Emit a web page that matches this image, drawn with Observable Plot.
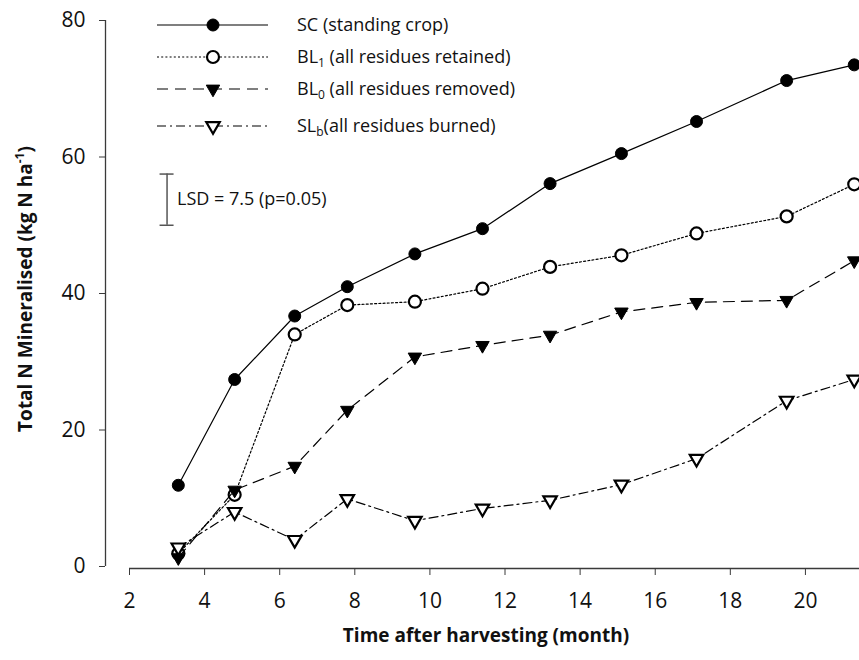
<!DOCTYPE html>
<html>
<head>
<meta charset="utf-8">
<script src="https://cdn.jsdelivr.net/npm/d3@7"></script>
<script src="https://cdn.jsdelivr.net/npm/@observablehq/plot@0.6"></script>
<style>
  body { margin: 0; background: #fff; font-family: "Open Sans", sans-serif; }
  #chart { position: relative; width: 859px; height: 660px; }
  #chart svg { position: absolute; left: 0; top: 0; }
</style>
</head>
<body>
<div id="chart"></div>
<script>
// Sampling times (months after harvest)
const months = [3.3, 4.8, 6.4, 7.8, 9.6, 11.4, 13.2, 15.1, 17.1, 19.5, 21.3];

// Cumulative N mineralised (kg N ha-1) per treatment
const scValues  = [11.9, 27.4, 36.7, 41.0, 45.8, 49.5, 56.1, 60.5, 65.2, 71.2, 73.5];
const bl1Values = [1.9, 10.5, 34.0, 38.3, 38.8, 40.7, 43.9, 45.6, 48.8, 51.3, 56.0];
const bl0Values = [1.3, 11.2, 14.7, 22.9, 30.7, 32.4, 33.9, 37.3, 38.7, 39.0, 44.8];
const slbValues = [2.8, 8.0, 3.9, 9.9, 6.7, 8.5, 9.7, 12.0, 15.8, 24.3, 27.4];

const seriesKeys = ["SC", "BL1", "BL0", "SLb"];
const seriesValues = [scValues, bl1Values, bl0Values, slbValues];

// Axis ticks and domains
const xTicks = [2, 4, 6, 8, 10, 12, 14, 16, 18, 20];
const yTicks = [0, 20, 40, 60, 80];
const xDomain = [2, 21.44];
const yDomain = [0, 80];

// Least significant difference bar
const lsdValue = 7.5;
const lsdX = 3;
const lsdBase = 50;
const lsdLabel = "LSD = 7.5 (p=0.05)";

// Long-format table
const rows = seriesKeys.flatMap((key, s) =>
  months.map((m, i) => ({series: key, month: m, value: seriesValues[s][i]}))
);

// Drawing styles per treatment
const styles = {
  SC:  {dash: null,        symbol: "circle",   fill: "black", r: 6, sw: 1.2, rotate: 0},
  BL1: {dash: "2,2.2",     symbol: "circle",   fill: "white", r: 6, sw: 2.2, rotate: 0},
  BL0: {dash: "11,7",      symbol: "triangle", fill: "black", r: 5, sw: 1.2, rotate: 180},
  SLb: {dash: "9,4,2,4",   symbol: "triangle", fill: "white", r: 5, sw: 2.2, rotate: 180}
};

const W = 859, H = 660, xInset = 24;
const axisColor = "#3a3a3a";
const textColor = "#111";
const fontFam = "'Open Sans', sans-serif";

const seriesMarks = seriesKeys.flatMap(key => {
  const st = styles[key];
  const data = rows.filter(d => d.series === key);
  return [
    Plot.line(data, {x: "month", y: "value", stroke: "black", strokeWidth: 1.2, strokeDasharray: st.dash}),
    Plot.dot(data, {x: "month", y: "value", r: st.r, symbol: st.symbol, rotate: st.rotate,
                    fill: st.fill, stroke: "black", strokeWidth: st.fill === "black" ? 1 : st.sw})
  ];
});

const plot = Plot.plot({
  width: W,
  height: H,
  marginLeft: 105,
  marginRight: 0,
  marginTop: 20,
  marginBottom: 94,
  x: {domain: xDomain, insetLeft: xInset},
  y: {domain: yDomain},
  style: {fontFamily: fontFam, background: "white", overflow: "visible"},
  marks: [
    // y axis line, offset from the start of the x axis
    Plot.ruleX([xDomain[0]], {y1: yDomain[0], y2: yDomain[1], dx: -xInset, stroke: axisColor, strokeWidth: 1.3}),
    Plot.axisY({ticks: yTicks, tickSize: 6, tickPadding: 14, fontSize: 21, label: null, stroke: axisColor, fill: textColor}),
    // x axis line
    Plot.ruleY([yDomain[0]], {x1: xDomain[0], x2: xDomain[1], dy: 2, stroke: axisColor, strokeWidth: 1.3}),
    Plot.axisX({ticks: xTicks, tickSize: 7, tickPadding: 18, dy: 2, fontSize: 21, label: null, stroke: axisColor, fill: textColor}),
    ...seriesMarks,
    // LSD bar with caps
    Plot.ruleX([lsdX], {y1: lsdBase, y2: lsdBase + lsdValue, stroke: "#555", strokeWidth: 1.5}),
    Plot.ruleY([lsdBase, lsdBase + lsdValue], {x1: lsdX, x2: lsdX, insetLeft: -7, insetRight: -7, stroke: "#555", strokeWidth: 1.5}),
    Plot.text([lsdLabel], {x: lsdX, y: lsdBase + lsdValue / 2, text: d => d, dx: 10, textAnchor: "start", fontSize: 18, fill: textColor})
  ]
});

const chart = document.getElementById("chart");
chart.appendChild(plot);

// Titles and legend overlay
const over = d3.select(chart).append("svg")
  .attr("width", W).attr("height", H)
  .style("pointer-events", "none")
  .style("font-family", fontFam);

const yTitle = over.append("text")
  .attr("transform", "translate(32,289) rotate(-90)")
  .attr("text-anchor", "middle")
  .attr("font-size", 19).attr("font-weight", "bold").attr("fill", textColor);
yTitle.append("tspan").text("Total N Mineralised (kg N ha");
yTitle.append("tspan").attr("font-size", 12).attr("dy", -8).text("-1");
yTitle.append("tspan").attr("dy", 8).text(")");

over.append("text")
  .attr("x", 486).attr("y", 642)
  .attr("text-anchor", "middle")
  .attr("font-size", 19).attr("font-weight", "bold").attr("fill", textColor)
  .text("Time after harvesting (month)");

const legendItems = [
  {key: "SC",  main: "SC",  sub: null, rest: " (standing crop)"},
  {key: "BL1", main: "BL",  sub: "1",  rest: " (all residues retained)"},
  {key: "BL0", main: "BL",  sub: "0",  rest: " (all residues removed)"},
  {key: "SLb", main: "SL",  sub: "b",  rest: "(all residues burned)"}
];
const legendRowY = [25, 57, 89, 126];

legendItems.forEach((it, i) => {
  const st = styles[it.key];
  const y = legendRowY[i];
  const g = over.append("g");
  g.append("line").attr("x1", 157).attr("x2", 268).attr("y1", y).attr("y2", y)
    .attr("stroke", "black").attr("stroke-width", 1.2)
    .attr("stroke-dasharray", st.dash);
  const sym = st.symbol === "circle" ? d3.symbolCircle : d3.symbolTriangle;
  g.append("path")
    .attr("d", d3.symbol(sym, st.r * st.r * Math.PI)())
    .attr("transform", `translate(213,${y}) rotate(${st.rotate})`)
    .attr("fill", st.fill).attr("stroke", "black")
    .attr("stroke-width", st.fill === "black" ? 1 : st.sw);
  const t = g.append("text").attr("x", 297).attr("y", y).attr("dy", "0.35em")
    .attr("font-size", 18).attr("fill", textColor);
  t.append("tspan").text(it.main);
  if (it.sub) {
    t.append("tspan").attr("font-size", 12).attr("dy", 4).text(it.sub);
    t.append("tspan").attr("dy", -4).text(it.rest);
  } else {
    t.append("tspan").text(it.rest);
  }
});
</script>
</body>
</html>
